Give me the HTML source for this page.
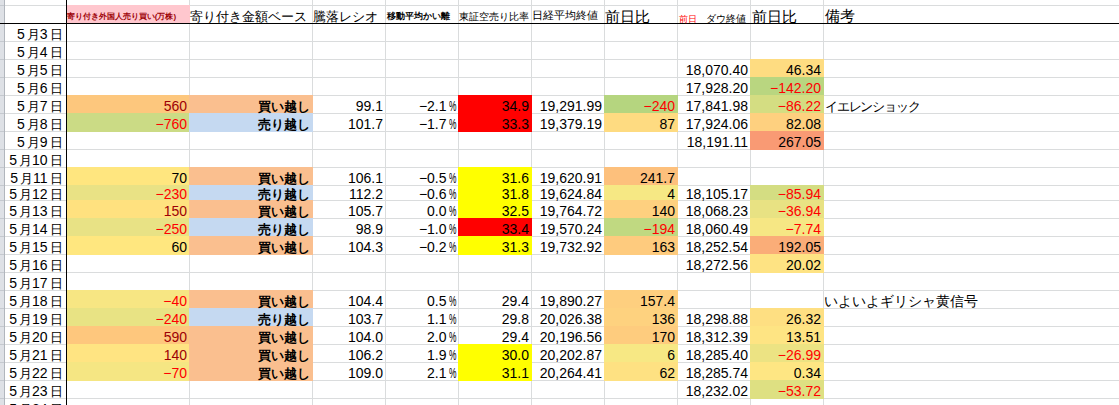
<!DOCTYPE html><html lang="ja"><head><meta charset="utf-8"><title>5月 寄り付き外国人売り買い</title><style>
*{margin:0;padding:0;box-sizing:border-box}
html,body{width:1119px;height:405px;overflow:hidden;background:#fff}
body{position:relative;font-family:"Liberation Sans",sans-serif;font-size:14px;color:#000}
.a{position:absolute}
.hl{position:absolute;left:0;width:1119px;height:1px;background:#dadcdd}
.vl{position:absolute;top:0;width:1px;height:405px;background:#dadcdd}
.t{position:absolute;white-space:nowrap;line-height:16px;height:16px;font-size:14px}
.k{line-height:0;font-size:var(--t);letter-spacing:var(--tl,0);margin-left:var(--tm,0);vertical-align:var(--tv,0)}
.k{-webkit-text-stroke:.3px}
.b .k{-webkit-text-stroke:.6px}
.cjk .k{font-size:var(--c);letter-spacing:var(--cl,0);margin-left:var(--cm,0);vertical-align:var(--cv,0);-webkit-text-stroke:0}
.b{font-weight:bold}
.pc{display:inline-block;transform:scaleX(.6);transform-origin:100% 50%;margin-left:-3px}

</style></head><body>
<div class="hl" style="top:5px"></div>
<div class="hl" style="top:41px"></div>
<div class="hl" style="top:59px"></div>
<div class="hl" style="top:77px"></div>
<div class="hl" style="top:95px"></div>
<div class="hl" style="top:113px"></div>
<div class="hl" style="top:131px"></div>
<div class="hl" style="top:149px"></div>
<div class="hl" style="top:167px"></div>
<div class="hl" style="top:185px"></div>
<div class="hl" style="top:200px"></div>
<div class="hl" style="top:218px"></div>
<div class="hl" style="top:236px"></div>
<div class="hl" style="top:254px"></div>
<div class="hl" style="top:272px"></div>
<div class="hl" style="top:290px"></div>
<div class="hl" style="top:308px"></div>
<div class="hl" style="top:326px"></div>
<div class="hl" style="top:344px"></div>
<div class="hl" style="top:362px"></div>
<div class="hl" style="top:380px"></div>
<div class="hl" style="top:398px"></div>
<div class="vl" style="left:66px"></div>
<div class="vl" style="left:189px"></div>
<div class="vl" style="left:312px"></div>
<div class="vl" style="left:385px"></div>
<div class="vl" style="left:458px"></div>
<div class="vl" style="left:531px"></div>
<div class="vl" style="left:604px"></div>
<div class="vl" style="left:677px"></div>
<div class="vl" style="left:750px"></div>
<div class="vl" style="left:823px"></div>
<div class="a" style="left:66px;top:5px;width:124px;height:18px;background:#ffc7ce"></div>
<div class="a" style="left:750px;top:59px;width:74px;height:19px;background:#fedc81"></div>
<div class="a" style="left:750px;top:77px;width:74px;height:19px;background:#b9d680"></div>
<div class="a" style="left:66px;top:95px;width:124px;height:19px;background:#fdc77d"></div>
<div class="a" style="left:189px;top:95px;width:124px;height:19px;background:#fabf8f"></div>
<div class="a" style="left:458px;top:95px;width:74px;height:19px;background:#ff0000"></div>
<div class="a" style="left:604px;top:95px;width:74px;height:19px;background:#b5d57f"></div>
<div class="a" style="left:750px;top:95px;width:74px;height:19px;background:#d4dd82"></div>
<div class="a" style="left:66px;top:113px;width:124px;height:19px;background:#cbdb85"></div>
<div class="a" style="left:189px;top:113px;width:124px;height:19px;background:#c5d9f1"></div>
<div class="a" style="left:458px;top:113px;width:74px;height:19px;background:#ff0000"></div>
<div class="a" style="left:604px;top:113px;width:74px;height:19px;background:#fedb81"></div>
<div class="a" style="left:750px;top:113px;width:74px;height:19px;background:#fed07f"></div>
<div class="a" style="left:750px;top:131px;width:74px;height:19px;background:#f99a74"></div>
<div class="a" style="left:66px;top:167px;width:124px;height:19px;background:#ffe67f"></div>
<div class="a" style="left:189px;top:167px;width:124px;height:19px;background:#fabf8f"></div>
<div class="a" style="left:458px;top:167px;width:74px;height:19px;background:#ffff00"></div>
<div class="a" style="left:604px;top:167px;width:74px;height:19px;background:#fdc07c"></div>
<div class="a" style="left:66px;top:185px;width:124px;height:16px;background:#e9e285"></div>
<div class="a" style="left:189px;top:185px;width:124px;height:16px;background:#c5d9f1"></div>
<div class="a" style="left:458px;top:185px;width:74px;height:16px;background:#ffff00"></div>
<div class="a" style="left:604px;top:185px;width:74px;height:16px;background:#f6e884"></div>
<div class="a" style="left:750px;top:185px;width:74px;height:16px;background:#d4dd82"></div>
<div class="a" style="left:66px;top:200px;width:124px;height:19px;background:#ffe17f"></div>
<div class="a" style="left:189px;top:200px;width:124px;height:19px;background:#fabf8f"></div>
<div class="a" style="left:458px;top:200px;width:74px;height:19px;background:#ffff00"></div>
<div class="a" style="left:604px;top:200px;width:74px;height:19px;background:#fed07f"></div>
<div class="a" style="left:750px;top:200px;width:74px;height:19px;background:#e8e283"></div>
<div class="a" style="left:66px;top:218px;width:124px;height:19px;background:#e8e285"></div>
<div class="a" style="left:189px;top:218px;width:124px;height:19px;background:#c5d9f1"></div>
<div class="a" style="left:458px;top:218px;width:74px;height:19px;background:#ff0000"></div>
<div class="a" style="left:604px;top:218px;width:74px;height:19px;background:#c0d981"></div>
<div class="a" style="left:750px;top:218px;width:74px;height:19px;background:#f6e784"></div>
<div class="a" style="left:66px;top:236px;width:124px;height:19px;background:#ffe77f"></div>
<div class="a" style="left:189px;top:236px;width:124px;height:19px;background:#fabf8f"></div>
<div class="a" style="left:458px;top:236px;width:74px;height:19px;background:#ffff00"></div>
<div class="a" style="left:604px;top:236px;width:74px;height:19px;background:#fecb7e"></div>
<div class="a" style="left:750px;top:236px;width:74px;height:19px;background:#faad78"></div>
<div class="a" style="left:750px;top:254px;width:74px;height:19px;background:#fee383"></div>
<div class="a" style="left:66px;top:290px;width:124px;height:19px;background:#f7e683"></div>
<div class="a" style="left:189px;top:290px;width:124px;height:19px;background:#fabf8f"></div>
<div class="a" style="left:604px;top:290px;width:74px;height:19px;background:#fecf7f"></div>
<div class="a" style="left:66px;top:308px;width:124px;height:19px;background:#e8e384"></div>
<div class="a" style="left:189px;top:308px;width:124px;height:19px;background:#c5d9f1"></div>
<div class="a" style="left:604px;top:308px;width:74px;height:19px;background:#fed27f"></div>
<div class="a" style="left:750px;top:308px;width:74px;height:19px;background:#fedf82"></div>
<div class="a" style="left:66px;top:326px;width:124px;height:19px;background:#fec77d"></div>
<div class="a" style="left:189px;top:326px;width:124px;height:19px;background:#fabf8f"></div>
<div class="a" style="left:604px;top:326px;width:74px;height:19px;background:#fecc7e"></div>
<div class="a" style="left:750px;top:326px;width:74px;height:19px;background:#fee483"></div>
<div class="a" style="left:66px;top:344px;width:124px;height:19px;background:#ffe482"></div>
<div class="a" style="left:189px;top:344px;width:124px;height:19px;background:#fabf8f"></div>
<div class="a" style="left:458px;top:344px;width:74px;height:19px;background:#ffff00"></div>
<div class="a" style="left:604px;top:344px;width:74px;height:19px;background:#f7e884"></div>
<div class="a" style="left:750px;top:344px;width:74px;height:19px;background:#ece383"></div>
<div class="a" style="left:66px;top:362px;width:124px;height:19px;background:#f5e683"></div>
<div class="a" style="left:189px;top:362px;width:124px;height:19px;background:#fabf8f"></div>
<div class="a" style="left:458px;top:362px;width:74px;height:19px;background:#ffff00"></div>
<div class="a" style="left:604px;top:362px;width:74px;height:19px;background:#fee182"></div>
<div class="a" style="left:750px;top:362px;width:74px;height:19px;background:#fee683"></div>
<div class="a" style="left:750px;top:380px;width:74px;height:19px;background:#dee082"></div>
<div class="a" style="left:0;top:0;width:4px;height:405px;background:#dee1e6"></div>
<div class="a" style="left:4px;top:0;width:1px;height:405px;background:#b1b6bd"></div>
<div class="a" style="left:0;top:5px;width:4px;height:1px;background:#c5c9cf"></div>
<div class="a" style="left:0;top:41px;width:4px;height:1px;background:#c5c9cf"></div>
<div class="a" style="left:0;top:59px;width:4px;height:1px;background:#c5c9cf"></div>
<div class="a" style="left:0;top:77px;width:4px;height:1px;background:#c5c9cf"></div>
<div class="a" style="left:0;top:95px;width:4px;height:1px;background:#c5c9cf"></div>
<div class="a" style="left:0;top:113px;width:4px;height:1px;background:#c5c9cf"></div>
<div class="a" style="left:0;top:131px;width:4px;height:1px;background:#c5c9cf"></div>
<div class="a" style="left:0;top:149px;width:4px;height:1px;background:#c5c9cf"></div>
<div class="a" style="left:0;top:167px;width:4px;height:1px;background:#c5c9cf"></div>
<div class="a" style="left:0;top:185px;width:4px;height:1px;background:#c5c9cf"></div>
<div class="a" style="left:0;top:200px;width:4px;height:1px;background:#c5c9cf"></div>
<div class="a" style="left:0;top:218px;width:4px;height:1px;background:#c5c9cf"></div>
<div class="a" style="left:0;top:236px;width:4px;height:1px;background:#c5c9cf"></div>
<div class="a" style="left:0;top:254px;width:4px;height:1px;background:#c5c9cf"></div>
<div class="a" style="left:0;top:272px;width:4px;height:1px;background:#c5c9cf"></div>
<div class="a" style="left:0;top:290px;width:4px;height:1px;background:#c5c9cf"></div>
<div class="a" style="left:0;top:308px;width:4px;height:1px;background:#c5c9cf"></div>
<div class="a" style="left:0;top:326px;width:4px;height:1px;background:#c5c9cf"></div>
<div class="a" style="left:0;top:344px;width:4px;height:1px;background:#c5c9cf"></div>
<div class="a" style="left:0;top:362px;width:4px;height:1px;background:#c5c9cf"></div>
<div class="a" style="left:0;top:380px;width:4px;height:1px;background:#c5c9cf"></div>
<div class="a" style="left:0;top:398px;width:4px;height:1px;background:#c5c9cf"></div>
<div class="a" style="left:0;top:23px;width:1119px;height:1px;background:#000"></div>
<div class="a" style="left:66px;top:0;width:1px;height:405px;background:#000"></div>
<div class="t b" style="left:66.8px;top:6.15px;color:#9c0006"><span class="k" style="--t:9px;--c:7.5px;--tl:0.95px">寄り付き外国人売り買い</span><span style="font-size:8px">(</span><span class="k" style="--t:9px;--c:7.5px;--tl:0.95px">万株</span><span style="font-size:8px">)</span></div>
<div class="t " style="left:189.9px;top:7.65px;color:#000"><span class="k" style="--t:17px;--c:13px;--tl:0.7px">寄り付き金額ベース</span></div>
<div class="t " style="left:313.0px;top:7.65px;color:#000"><span class="k" style="--t:18px;--c:13.2px">騰落レシオ</span></div>
<div class="t b" style="left:386.8px;top:5.75px;color:#000"><span class="k" style="--t:12.3px;--c:9px">移動平均かい離</span></div>
<div class="t " style="left:459.3px;top:6.55px;color:#000"><span class="k" style="--t:13.1px;--c:9.6px">東証空売り比率</span></div>
<div class="t " style="left:531.9px;top:5.75px;color:#000"><span class="k" style="--t:15.2px;--c:11px">日経平均終値</span></div>
<div class="t " style="left:605.1px;top:8.65px;color:#000"><span class="k" style="--t:19px;--c:14.8px;--tl:2px">前日比</span></div>
<div class="t " style="left:678.5px;top:8.65px;color:#000"><span style="color:#ff0000"><span class="k" style="--t:13.7px;--c:9.4px">前日</span></span></div>
<div class="t " style="left:705.7px;top:8.65px;color:#000"><span class="k" style="--t:13.2px;--c:9.5px">ダウ終値</span></div>
<div class="t " style="left:752.0px;top:8.65px;color:#000"><span class="k" style="--t:19px;--c:14.8px;--tl:2px">前日比</span></div>
<div class="t " style="left:825.3px;top:8.15px;color:#000"><span class="k" style="--t:19px;--c:14.6px;--tl:3px">備考</span></div>
<div class="t " style="right:1056.5px;top:26.15px;color:#000">5<span class="k" style="--t:17px;--c:13px;--tm:2.5px;--cm:2px;--tv:-1px">月</span>3<span class="k" style="--t:17px;--c:13px;--tm:2px;--cm:2px;--tv:-1px">日</span></div>
<div class="t " style="right:1056.5px;top:44.15px;color:#000">5<span class="k" style="--t:17px;--c:13px;--tm:2.5px;--cm:2px;--tv:-1px">月</span>4<span class="k" style="--t:17px;--c:13px;--tm:2px;--cm:2px;--tv:-1px">日</span></div>
<div class="t " style="right:1056.5px;top:62.15px;color:#000">5<span class="k" style="--t:17px;--c:13px;--tm:2.5px;--cm:2px;--tv:-1px">月</span>5<span class="k" style="--t:17px;--c:13px;--tm:2px;--cm:2px;--tv:-1px">日</span></div>
<div class="t " style="right:1056.5px;top:80.15px;color:#000">5<span class="k" style="--t:17px;--c:13px;--tm:2.5px;--cm:2px;--tv:-1px">月</span>6<span class="k" style="--t:17px;--c:13px;--tm:2px;--cm:2px;--tv:-1px">日</span></div>
<div class="t " style="right:1056.5px;top:98.15px;color:#000">5<span class="k" style="--t:17px;--c:13px;--tm:2.5px;--cm:2px;--tv:-1px">月</span>7<span class="k" style="--t:17px;--c:13px;--tm:2px;--cm:2px;--tv:-1px">日</span></div>
<div class="t " style="right:1056.5px;top:116.15px;color:#000">5<span class="k" style="--t:17px;--c:13px;--tm:2.5px;--cm:2px;--tv:-1px">月</span>8<span class="k" style="--t:17px;--c:13px;--tm:2px;--cm:2px;--tv:-1px">日</span></div>
<div class="t " style="right:1056.5px;top:134.15px;color:#000">5<span class="k" style="--t:17px;--c:13px;--tm:2.5px;--cm:2px;--tv:-1px">月</span>9<span class="k" style="--t:17px;--c:13px;--tm:2px;--cm:2px;--tv:-1px">日</span></div>
<div class="t " style="right:1056.5px;top:152.15px;color:#000">5<span class="k" style="--t:17px;--c:13px;--tm:2.5px;--cm:2px;--tv:-1px">月</span>10<span class="k" style="--t:17px;--c:13px;--tm:2px;--cm:2px;--tv:-1px">日</span></div>
<div class="t " style="right:1056.5px;top:170.15px;color:#000">5<span class="k" style="--t:17px;--c:13px;--tm:2.5px;--cm:2px;--tv:-1px">月</span>11<span class="k" style="--t:17px;--c:13px;--tm:2px;--cm:2px;--tv:-1px">日</span></div>
<div class="t " style="right:1056.5px;top:186.15px;color:#000">5<span class="k" style="--t:17px;--c:13px;--tm:2.5px;--cm:2px;--tv:-1px">月</span>12<span class="k" style="--t:17px;--c:13px;--tm:2px;--cm:2px;--tv:-1px">日</span></div>
<div class="t " style="right:1056.5px;top:203.15px;color:#000">5<span class="k" style="--t:17px;--c:13px;--tm:2.5px;--cm:2px;--tv:-1px">月</span>13<span class="k" style="--t:17px;--c:13px;--tm:2px;--cm:2px;--tv:-1px">日</span></div>
<div class="t " style="right:1056.5px;top:221.15px;color:#000">5<span class="k" style="--t:17px;--c:13px;--tm:2.5px;--cm:2px;--tv:-1px">月</span>14<span class="k" style="--t:17px;--c:13px;--tm:2px;--cm:2px;--tv:-1px">日</span></div>
<div class="t " style="right:1056.5px;top:239.15px;color:#000">5<span class="k" style="--t:17px;--c:13px;--tm:2.5px;--cm:2px;--tv:-1px">月</span>15<span class="k" style="--t:17px;--c:13px;--tm:2px;--cm:2px;--tv:-1px">日</span></div>
<div class="t " style="right:1056.5px;top:257.15px;color:#000">5<span class="k" style="--t:17px;--c:13px;--tm:2.5px;--cm:2px;--tv:-1px">月</span>16<span class="k" style="--t:17px;--c:13px;--tm:2px;--cm:2px;--tv:-1px">日</span></div>
<div class="t " style="right:1056.5px;top:275.15px;color:#000">5<span class="k" style="--t:17px;--c:13px;--tm:2.5px;--cm:2px;--tv:-1px">月</span>17<span class="k" style="--t:17px;--c:13px;--tm:2px;--cm:2px;--tv:-1px">日</span></div>
<div class="t " style="right:1056.5px;top:293.15px;color:#000">5<span class="k" style="--t:17px;--c:13px;--tm:2.5px;--cm:2px;--tv:-1px">月</span>18<span class="k" style="--t:17px;--c:13px;--tm:2px;--cm:2px;--tv:-1px">日</span></div>
<div class="t " style="right:1056.5px;top:311.15px;color:#000">5<span class="k" style="--t:17px;--c:13px;--tm:2.5px;--cm:2px;--tv:-1px">月</span>19<span class="k" style="--t:17px;--c:13px;--tm:2px;--cm:2px;--tv:-1px">日</span></div>
<div class="t " style="right:1056.5px;top:329.15px;color:#000">5<span class="k" style="--t:17px;--c:13px;--tm:2.5px;--cm:2px;--tv:-1px">月</span>20<span class="k" style="--t:17px;--c:13px;--tm:2px;--cm:2px;--tv:-1px">日</span></div>
<div class="t " style="right:1056.5px;top:347.15px;color:#000">5<span class="k" style="--t:17px;--c:13px;--tm:2.5px;--cm:2px;--tv:-1px">月</span>21<span class="k" style="--t:17px;--c:13px;--tm:2px;--cm:2px;--tv:-1px">日</span></div>
<div class="t " style="right:1056.5px;top:365.15px;color:#000">5<span class="k" style="--t:17px;--c:13px;--tm:2.5px;--cm:2px;--tv:-1px">月</span>22<span class="k" style="--t:17px;--c:13px;--tm:2px;--cm:2px;--tv:-1px">日</span></div>
<div class="t " style="right:1056.5px;top:383.15px;color:#000">5<span class="k" style="--t:17px;--c:13px;--tm:2.5px;--cm:2px;--tv:-1px">月</span>23<span class="k" style="--t:17px;--c:13px;--tm:2px;--cm:2px;--tv:-1px">日</span></div>
<div class="t " style="right:1056.5px;top:401.15px;color:#000">5<span class="k" style="--t:17px;--c:13px;--tm:2.5px;--cm:2px;--tv:-1px">月</span>24<span class="k" style="--t:17px;--c:13px;--tm:2px;--cm:2px;--tv:-1px">日</span></div>
<div class="t " style="right:371px;top:62.15px;color:#000000">18,070.40</div>
<div class="t " style="right:298px;top:62.15px;color:#000000">46.34</div>
<div class="t " style="right:371px;top:80.15px;color:#000000">17,928.20</div>
<div class="t " style="right:298px;top:80.15px;color:#ff0000">−142.20</div>
<div class="t " style="right:932px;top:98.15px;color:#9c0006">560</div>
<div class="t b" style="right:809.3px;top:98.15px;color:#000000"><span class="k" style="--t:17.3px;--c:12.6px">買い越し</span></div>
<div class="t " style="right:736px;top:98.15px;color:#000000">99.1</div>
<div class="t " style="right:663px;top:98.15px;color:#000000">−2.1<span class="pc">%</span></div>
<div class="t " style="right:590px;top:98.15px;color:#000000">34.9</div>
<div class="t " style="right:517px;top:98.15px;color:#000000">19,291.99</div>
<div class="t " style="right:444px;top:98.15px;color:#ff0000">−240</div>
<div class="t " style="right:371px;top:98.15px;color:#000000">17,841.98</div>
<div class="t " style="right:298px;top:98.15px;color:#ff0000">−86.22</div>
<div class="t " style="left:824.8px;top:98.15px;color:#000000"><span class="k" style="--t:16.3px;--c:13px;--cl:-1.1px;--tv:-1px">イエレンショック</span></div>
<div class="t " style="right:932px;top:116.15px;color:#ff0000">−760</div>
<div class="t b" style="right:809.3px;top:116.15px;color:#000000"><span class="k" style="--t:17.3px;--c:12.6px">売り越し</span></div>
<div class="t " style="right:736px;top:116.15px;color:#000000">101.7</div>
<div class="t " style="right:663px;top:116.15px;color:#000000">−1.7<span class="pc">%</span></div>
<div class="t " style="right:590px;top:116.15px;color:#000000">33.3</div>
<div class="t " style="right:517px;top:116.15px;color:#000000">19,379.19</div>
<div class="t " style="right:444px;top:116.15px;color:#000000">87</div>
<div class="t " style="right:371px;top:116.15px;color:#000000">17,924.06</div>
<div class="t " style="right:298px;top:116.15px;color:#000000">82.08</div>
<div class="t " style="right:371px;top:134.15px;color:#000000">18,191.11</div>
<div class="t " style="right:298px;top:134.15px;color:#000000">267.05</div>
<div class="t " style="right:932px;top:170.15px;color:#000000">70</div>
<div class="t b" style="right:809.3px;top:170.15px;color:#000000"><span class="k" style="--t:17.3px;--c:12.6px">買い越し</span></div>
<div class="t " style="right:736px;top:170.15px;color:#000000">106.1</div>
<div class="t " style="right:663px;top:170.15px;color:#000000">−0.5<span class="pc">%</span></div>
<div class="t " style="right:590px;top:170.15px;color:#000000">31.6</div>
<div class="t " style="right:517px;top:170.15px;color:#000000">19,620.91</div>
<div class="t " style="right:444px;top:170.15px;color:#000000">241.7</div>
<div class="t " style="right:932px;top:186.15px;color:#ff0000">−230</div>
<div class="t b" style="right:809.3px;top:186.15px;color:#000000"><span class="k" style="--t:17.3px;--c:12.6px">売り越し</span></div>
<div class="t " style="right:736px;top:186.15px;color:#000000">112.2</div>
<div class="t " style="right:663px;top:186.15px;color:#000000">−0.6<span class="pc">%</span></div>
<div class="t " style="right:590px;top:186.15px;color:#000000">31.8</div>
<div class="t " style="right:517px;top:186.15px;color:#000000">19,624.84</div>
<div class="t " style="right:444px;top:186.15px;color:#000000">4</div>
<div class="t " style="right:371px;top:186.15px;color:#000000">18,105.17</div>
<div class="t " style="right:298px;top:186.15px;color:#ff0000">−85.94</div>
<div class="t " style="right:932px;top:203.15px;color:#9c0006">150</div>
<div class="t b" style="right:809.3px;top:203.15px;color:#000000"><span class="k" style="--t:17.3px;--c:12.6px">買い越し</span></div>
<div class="t " style="right:736px;top:203.15px;color:#000000">105.7</div>
<div class="t " style="right:663px;top:203.15px;color:#000000">0.0<span class="pc">%</span></div>
<div class="t " style="right:590px;top:203.15px;color:#000000">32.5</div>
<div class="t " style="right:517px;top:203.15px;color:#000000">19,764.72</div>
<div class="t " style="right:444px;top:203.15px;color:#000000">140</div>
<div class="t " style="right:371px;top:203.15px;color:#000000">18,068.23</div>
<div class="t " style="right:298px;top:203.15px;color:#ff0000">−36.94</div>
<div class="t " style="right:932px;top:221.15px;color:#ff0000">−250</div>
<div class="t b" style="right:809.3px;top:221.15px;color:#000000"><span class="k" style="--t:17.3px;--c:12.6px">売り越し</span></div>
<div class="t " style="right:736px;top:221.15px;color:#000000">98.9</div>
<div class="t " style="right:663px;top:221.15px;color:#000000">−1.0<span class="pc">%</span></div>
<div class="t " style="right:590px;top:221.15px;color:#000000">33.4</div>
<div class="t " style="right:517px;top:221.15px;color:#000000">19,570.24</div>
<div class="t " style="right:444px;top:221.15px;color:#ff0000">−194</div>
<div class="t " style="right:371px;top:221.15px;color:#000000">18,060.49</div>
<div class="t " style="right:298px;top:221.15px;color:#ff0000">−7.74</div>
<div class="t " style="right:932px;top:239.15px;color:#000000">60</div>
<div class="t b" style="right:809.3px;top:239.15px;color:#000000"><span class="k" style="--t:17.3px;--c:12.6px">買い越し</span></div>
<div class="t " style="right:736px;top:239.15px;color:#000000">104.3</div>
<div class="t " style="right:663px;top:239.15px;color:#000000">−0.2<span class="pc">%</span></div>
<div class="t " style="right:590px;top:239.15px;color:#000000">31.3</div>
<div class="t " style="right:517px;top:239.15px;color:#000000">19,732.92</div>
<div class="t " style="right:444px;top:239.15px;color:#000000">163</div>
<div class="t " style="right:371px;top:239.15px;color:#000000">18,252.54</div>
<div class="t " style="right:298px;top:239.15px;color:#000000">192.05</div>
<div class="t " style="right:371px;top:257.15px;color:#000000">18,272.56</div>
<div class="t " style="right:298px;top:257.15px;color:#000000">20.02</div>
<div class="t " style="right:932px;top:293.15px;color:#ff0000">−40</div>
<div class="t b" style="right:809.3px;top:293.15px;color:#000000"><span class="k" style="--t:17.3px;--c:12.6px">買い越し</span></div>
<div class="t " style="right:736px;top:293.15px;color:#000000">104.4</div>
<div class="t " style="right:663px;top:293.15px;color:#000000">0.5<span class="pc">%</span></div>
<div class="t " style="right:590px;top:293.15px;color:#000000">29.4</div>
<div class="t " style="right:517px;top:293.15px;color:#000000">19,890.27</div>
<div class="t " style="right:444px;top:293.15px;color:#000000">157.4</div>
<div class="t " style="left:824.0px;top:293.15px;color:#000000"><span class="k" style="--t:18.3px;--c:13.5px;--tv:-1px">いよいよギリシャ黄信号</span></div>
<div class="t " style="right:932px;top:311.15px;color:#ff0000">−240</div>
<div class="t b" style="right:809.3px;top:311.15px;color:#000000"><span class="k" style="--t:17.3px;--c:12.6px">売り越し</span></div>
<div class="t " style="right:736px;top:311.15px;color:#000000">103.7</div>
<div class="t " style="right:663px;top:311.15px;color:#000000">1.1<span class="pc">%</span></div>
<div class="t " style="right:590px;top:311.15px;color:#000000">29.8</div>
<div class="t " style="right:517px;top:311.15px;color:#000000">20,026.38</div>
<div class="t " style="right:444px;top:311.15px;color:#000000">136</div>
<div class="t " style="right:371px;top:311.15px;color:#000000">18,298.88</div>
<div class="t " style="right:298px;top:311.15px;color:#000000">26.32</div>
<div class="t " style="right:932px;top:329.15px;color:#9c0006">590</div>
<div class="t b" style="right:809.3px;top:329.15px;color:#000000"><span class="k" style="--t:17.3px;--c:12.6px">買い越し</span></div>
<div class="t " style="right:736px;top:329.15px;color:#000000">104.0</div>
<div class="t " style="right:663px;top:329.15px;color:#000000">2.0<span class="pc">%</span></div>
<div class="t " style="right:590px;top:329.15px;color:#000000">29.4</div>
<div class="t " style="right:517px;top:329.15px;color:#000000">20,196.56</div>
<div class="t " style="right:444px;top:329.15px;color:#000000">170</div>
<div class="t " style="right:371px;top:329.15px;color:#000000">18,312.39</div>
<div class="t " style="right:298px;top:329.15px;color:#000000">13.51</div>
<div class="t " style="right:932px;top:347.15px;color:#9c0006">140</div>
<div class="t b" style="right:809.3px;top:347.15px;color:#000000"><span class="k" style="--t:17.3px;--c:12.6px">買い越し</span></div>
<div class="t " style="right:736px;top:347.15px;color:#000000">106.2</div>
<div class="t " style="right:663px;top:347.15px;color:#000000">1.9<span class="pc">%</span></div>
<div class="t " style="right:590px;top:347.15px;color:#000000">30.0</div>
<div class="t " style="right:517px;top:347.15px;color:#000000">20,202.87</div>
<div class="t " style="right:444px;top:347.15px;color:#000000">6</div>
<div class="t " style="right:371px;top:347.15px;color:#000000">18,285.40</div>
<div class="t " style="right:298px;top:347.15px;color:#ff0000">−26.99</div>
<div class="t " style="right:932px;top:365.15px;color:#ff0000">−70</div>
<div class="t b" style="right:809.3px;top:365.15px;color:#000000"><span class="k" style="--t:17.3px;--c:12.6px">買い越し</span></div>
<div class="t " style="right:736px;top:365.15px;color:#000000">109.0</div>
<div class="t " style="right:663px;top:365.15px;color:#000000">2.1<span class="pc">%</span></div>
<div class="t " style="right:590px;top:365.15px;color:#000000">31.1</div>
<div class="t " style="right:517px;top:365.15px;color:#000000">20,264.41</div>
<div class="t " style="right:444px;top:365.15px;color:#000000">62</div>
<div class="t " style="right:371px;top:365.15px;color:#000000">18,285.74</div>
<div class="t " style="right:298px;top:365.15px;color:#000000">0.34</div>
<div class="t " style="right:371px;top:383.15px;color:#000000">18,232.02</div>
<div class="t " style="right:298px;top:383.15px;color:#ff0000">−53.72</div>
<script>(function(){var s=document.createElement('span');s.style.cssText='position:absolute;visibility:hidden;white-space:nowrap;font-size:100px;line-height:1';s.textContent='\u65e5\u65e5\u65e5\u65e5';document.body.appendChild(s);if(s.getBoundingClientRect().width>350)document.documentElement.className='cjk';document.body.removeChild(s);})();</script>
</body></html>
